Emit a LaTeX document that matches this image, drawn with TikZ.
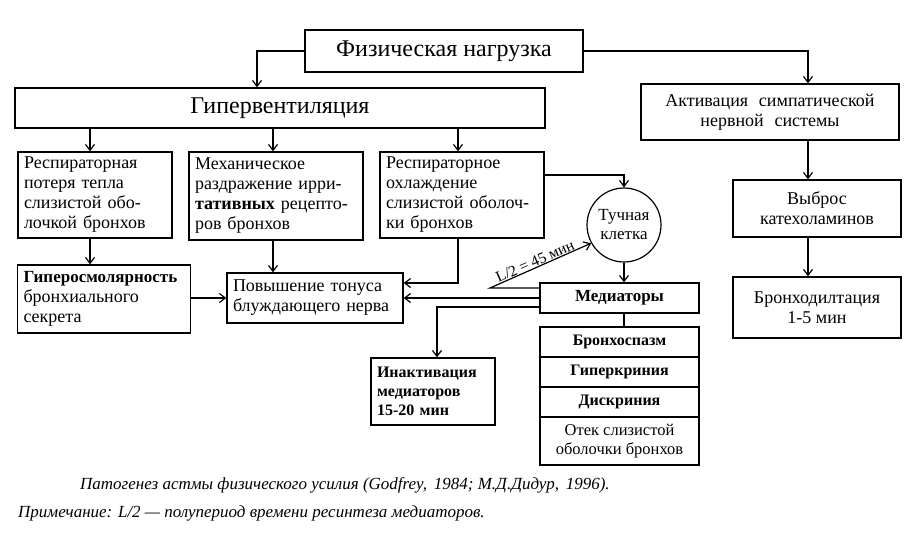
\documentclass[tikz,border=0pt]{standalone}
\usepackage{fontspec}
\setmainfont{Liberation Serif}
\usetikzlibrary{arrows.meta,calc}
\begin{document}
\begin{tikzpicture}[x=1pt,y=-1pt,
  box/.style={draw, line width=1.2pt, inner xsep=6pt, inner ysep=3pt},
  arr/.style={line width=1.2pt, -{Straight Barb[length=6pt,width=9pt,line width=1.2pt]}},
  ln/.style={line width=1.2pt},
  body/.style={font=\fontsize{18}{20}\selectfont},
  title/.style={font=\fontsize{24}{28}\selectfont},
  small/.style={font=\fontsize{16.5}{19}\selectfont},
  capt/.style={font=\itshape\fontsize{17}{19}\selectfont, inner sep=0pt, anchor=west},
]
\useasboundingbox (0,0) rectangle (907,537);
% top
\node[box, title, minimum width=278pt, minimum height=42pt] (fiz) at (444,51) {Физическая нагрузка};
\node[box, title, minimum width=530pt, minimum height=40pt] (hyp) at (280,108) {Гипервентиляция};
\node[box, body, align=center, minimum width=258pt, minimum height=56pt] (symp) at (770,112) {Активация\hspace{0.6em}симпатической\\нервной\hspace{0.6em}системы};
% second row
\node[box, body, text width=142pt, align=left, minimum height=86pt] (resp) at (95,195) {Респираторная\\потеря тепла\\слизистой обо-\\лочкой бронхов};
\node[box, body, text width=162pt, align=left, minimum height=88pt] (mech) at (276,196) {Механическое\\раздражение ирри-\\\textbf{тативных} рецепто-\\ров бронхов};
\node[box, body, text width=152pt, align=left, minimum height=86pt] (cool) at (462,195) {Респираторное\\охлаждение\\слизистой оболоч-\\ки бронхов};
\node[draw, line width=1.2pt, circle, minimum size=74pt, inner sep=0pt, align=center, font=\fontsize{17}{19}\selectfont] (mast) at (624,225) {Тучная\\клетка};
% third row
\node[box, body, text width=161pt, align=left, minimum height=68pt] (osm) at (104,299) {{\bfseries\fontsize{17}{20}\selectfont Гиперосмолярность}\\бронхиального\\секрета};
\node[box, body, text width=164pt, align=left, minimum height=50pt] (vag) at (315,298) {Повышение тонуса\\блуждающего нерва};
\node[box, font=\bfseries\fontsize{17}{19}\selectfont, minimum width=159pt, minimum height=30pt] (med) at (619.5,298) {Медиаторы};
\node[box, font=\bfseries\fontsize{16}{19}\selectfont, text width=112pt, align=left, minimum height=67pt] (ina) at (433,391.5) {Инактивация\\медиаторов\\15-20 мин};
% stack
\node[box, font=\bfseries\fontsize{16}{19}\selectfont, minimum width=159pt, minimum height=30pt] (s1) at (619.5,342) {Бронхоспазм};
\node[box, font=\bfseries\fontsize{16}{19}\selectfont, minimum width=159pt, minimum height=30pt] (s2) at (619.5,372) {Гиперкриния};
\node[box, font=\bfseries\fontsize{16}{19}\selectfont, minimum width=159pt, minimum height=30pt] (s3) at (619.5,402) {Дискриния};
\node[box, small, align=center, minimum width=159pt, minimum height=48pt] (s4) at (619.5,441) {Отек слизистой\\оболочки бронхов};
% right column
\node[box, body, align=center, minimum width=168pt, minimum height=57pt] (cat) at (817,208.5) {Выброс\\катехоламинов};
\node[box, body, align=center, minimum width=168pt, minimum height=61pt] (bdil) at (817,307.5) {Бронходилтация\\1-5 мин};
% captions
\node[capt] (cap1) at (80,485) {Патогенез астмы физического усилия (Godfrey,\hspace{0.4em}1984; М.Д.Дидур,\hspace{0.4em}1996).};
\node[capt] (cap2) at (18,513) {Примечание: L/2 — полупериод времени ресинтеза медиаторов.};
% connectors
\coordinate (lk) at (490,288);
\draw[arr] (fiz.west) -| ([xshift=-23]hyp.north);
\draw[arr] (fiz.east) -| ([xshift=38]symp.north);
\draw[arr] ([xshift=-5]resp.north |- hyp.south) -- ([xshift=-5]resp.north);
\draw[arr] ([xshift=-3]mech.north |- hyp.south) -- ([xshift=-3]mech.north);
\draw[arr] ([xshift=-4]cool.north |- hyp.south) -- ([xshift=-4]cool.north);
\draw[arr] ([xshift=-5]resp.south) -- ([xshift=-5]resp.south |- osm.north);
\draw[arr] ([xshift=-3]mech.south) -- ([xshift=-3]mech.south |- vag.north);
\draw[arr] (osm.east |- vag.west) -- (vag.west);
\draw[arr] ([xshift=-4]cool.south) |- ([yshift=15]vag.east);
\draw[arr] (med.west) -- (med.west -| vag.east);
\draw[arr] ([yshift=20]cool.east) -| (mast.north);
\draw[arr] (mast.south) -- (mast.south |- med.north);
\draw[ln] (mast.south |- med.south) -- (mast.south |- s1.north);
\draw[arr] ([yshift=10]med.west) -- (lk) -- node[sloped, above, pos=0.47, font=\fontsize{15.5}{17}\selectfont, inner sep=0.5pt] (lbl) {L/2 = 45 мин} (mast.209);
\draw[arr] ([yshift=-9]med.west) -| ([xshift=4]ina.north);
\draw[arr] ([xshift=-9]cat.north |- symp.south) -- ([xshift=-9]cat.north);
\draw[arr] ([xshift=-9]cat.south) -- ([xshift=-9]bdil.north);
\end{tikzpicture}
\end{document}
